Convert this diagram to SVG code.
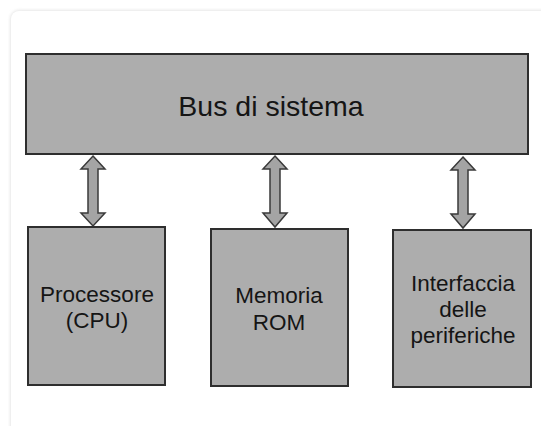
<svg xmlns="http://www.w3.org/2000/svg" width="541" height="426" viewBox="0 0 541 426">
<defs>
<filter id="sh" x="-5%" y="-5%" width="110%" height="110%">
<feGaussianBlur stdDeviation="1.5"/>
</filter>
</defs>
<style>
.box{fill:#adadad;stroke:#2e2e2e;stroke-width:2}
.arr{fill:#a4a4a4;stroke:#3a3a3a;stroke-width:1.5;stroke-linejoin:miter}
.t{font-family:"Liberation Sans",Arial,sans-serif;fill:#151515;text-anchor:middle}
.tb{font-size:28.5px}
.tn{font-size:22.5px}
</style>
<rect width="541" height="426" fill="#ffffff"/>
<rect x="10" y="10" width="560" height="440" rx="9" fill="#e6e6e6" filter="url(#sh)"/>
<rect x="11" y="11" width="560" height="440" rx="8" fill="#ffffff"/>
<g id="bus">
<rect class="box" x="26" y="54" width="502" height="100"/>
<text class="t tb" x="271" y="116">Bus di sistema</text>
</g>
<g id="connectors">
<polygon class="arr" points="93,156 105,169 98,169 98,213 105,213 93,226 81,213 88,213 88,169 81,169"/>
<polygon class="arr" points="275,156 287,169 280,169 280,213 287,213 275,227 263,213 270,213 270,169 263,169"/>
<polygon class="arr" points="463,157 475,170 468,170 468,214 475,214 463,228 451,214 458,214 458,170 451,170"/>
</g>
<g id="cpu">
<rect class="box" x="28" y="227" width="137" height="158"/>
<text class="t tn" x="97" y="302">Processore</text>
<text class="t tn" x="97" y="328">(CPU)</text>
</g>
<g id="rom">
<rect class="box" x="211" y="229" width="137" height="157"/>
<text class="t tn" x="279" y="303">Memoria</text>
<text class="t tn" x="279" y="330">ROM</text>
</g>
<g id="periferiche">
<rect class="box" x="393" y="230" width="138" height="157"/>
<text class="t tn" x="463" y="291">Interfaccia</text>
<text class="t tn" x="463" y="317">delle</text>
<text class="t tn" x="463" y="343">periferiche</text>
</g>
</svg>
